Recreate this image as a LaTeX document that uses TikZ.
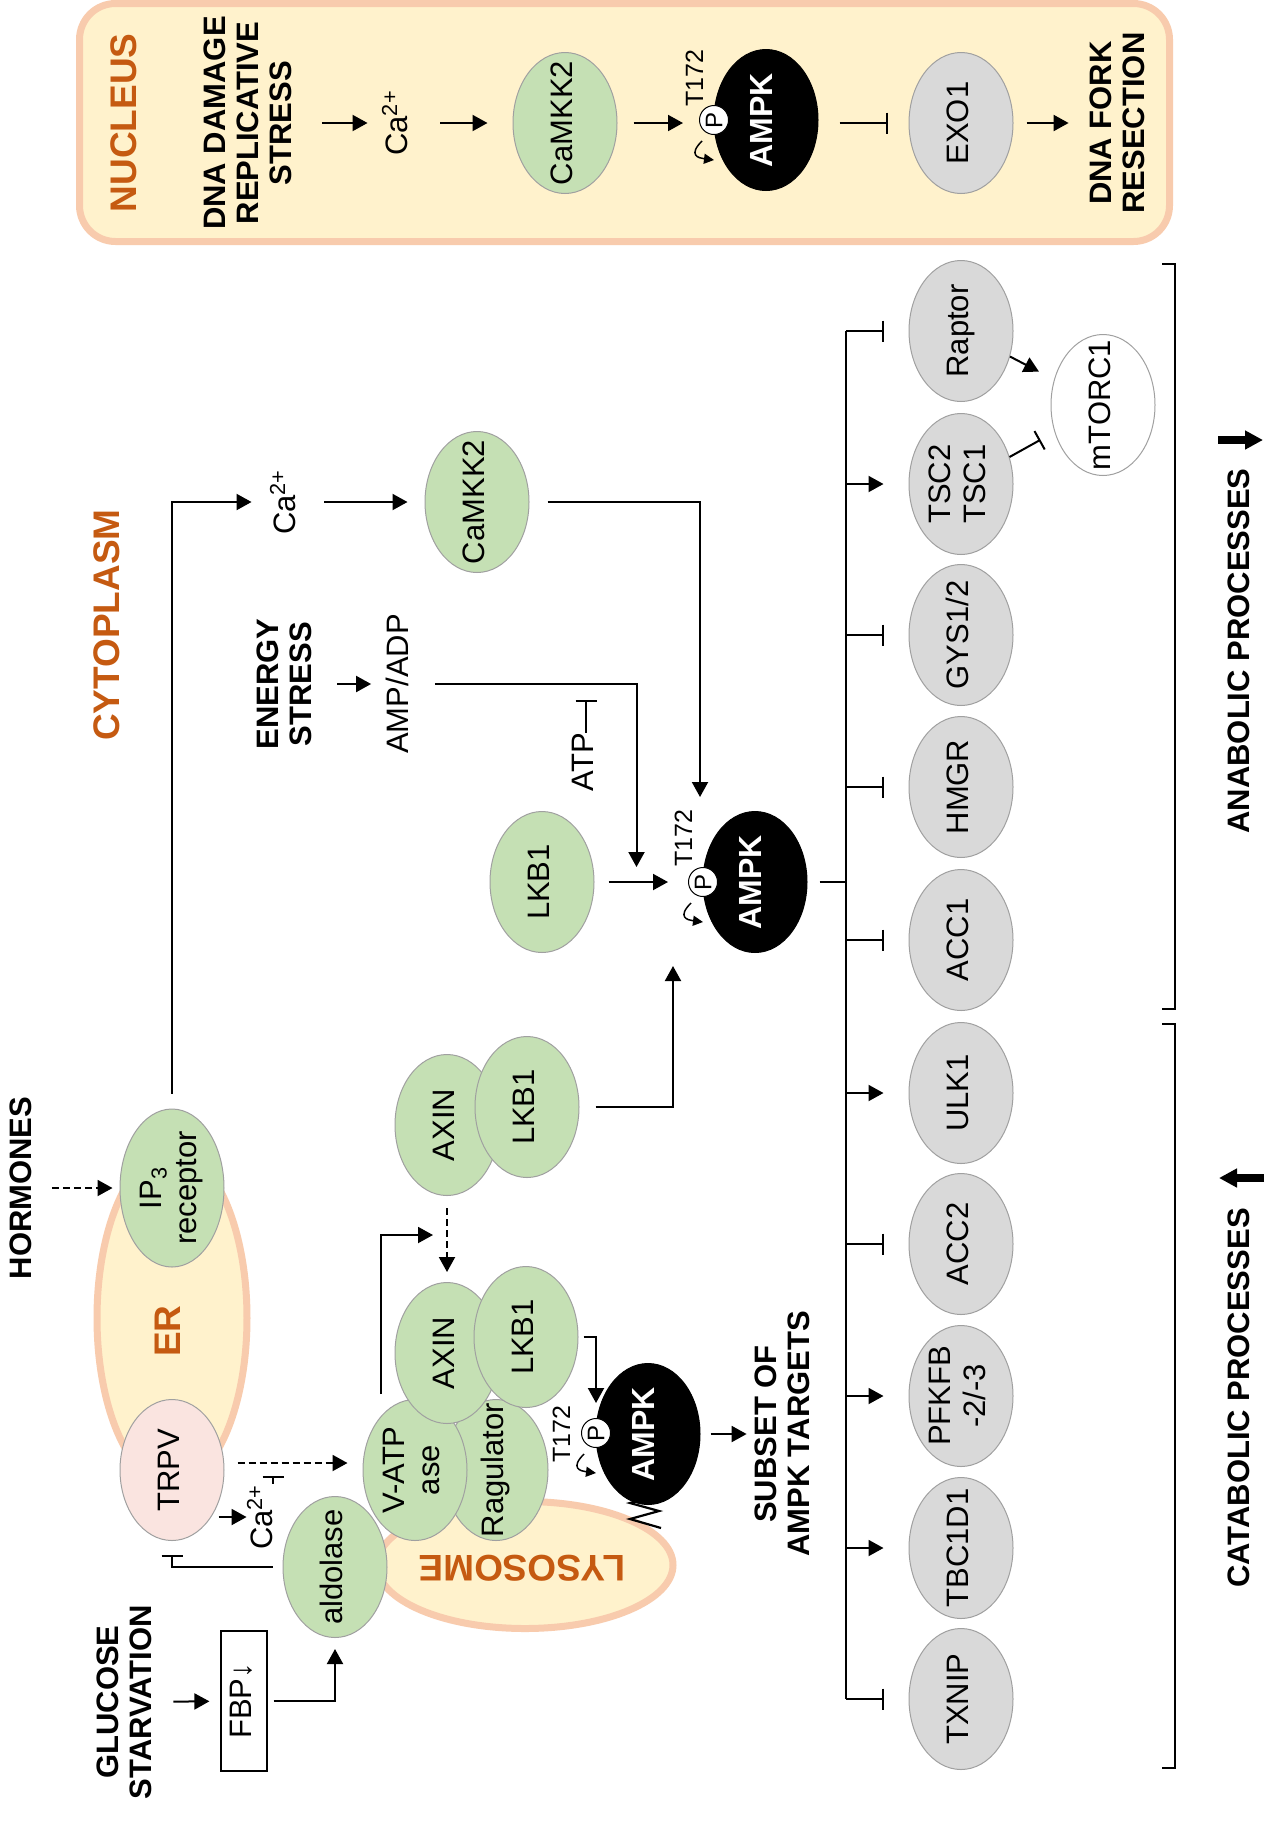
\documentclass[tikz,border=0pt]{standalone}
\usepackage{fontspec}
\setmainfont{Liberation Sans}
\usepackage{graphicx}
\usepackage{tikz}
\usetikzlibrary{arrows.meta,shapes.geometric}
\definecolor{ProtGreen}{HTML}{C5E0B4}
\definecolor{ProtGrey}{HTML}{D9D9D9}
\definecolor{EdgeGrey}{HTML}{A0A0A0}
\definecolor{MemYellow}{HTML}{FFF2CC}
\definecolor{MemPeach}{HTML}{F8CBAD}
\definecolor{RegionOrange}{HTML}{C55A11}
\definecolor{TrpvPink}{HTML}{FAE4E0}

\newcommand{\fLbl}{\fontsize{15.5}{17.5}\selectfont}
\newcommand{\fBold}{\fontsize{15.5}{16.5}\selectfont\bfseries}
\newcommand{\fRegion}{\fontsize{18.5}{19}\selectfont\bfseries}
\newcommand{\fSmall}{\fontsize{12.5}{13}\selectfont}
\newcommand{\vtext}[1]{\rotatebox{90}{\begin{tabular}{@{}c@{}}#1\end{tabular}}}
\newcommand{\vinner}[1]{\makebox[0pt]{\raisebox{-.5\height}[0pt][0pt]{\vtext{#1}}}}
\newcommand{\phook}[1]{\draw[hookarr] ([shift={(-12,21)}]#1.center) .. controls +(-14,14) and +(-16,-2) .. ([shift={(0,40)}]#1.center);}

\begin{document}
\begin{tikzpicture}[x=0.5pt, y=-0.5pt,
  prot/.style={ellipse, draw=EdgeGrey, line width=0.5pt, inner sep=0pt,
    minimum width=52pt, minimum height=70.5pt, font=\fLbl},
  actor/.style={prot, fill=ProtGreen},
  tgt/.style={prot, fill=ProtGrey},
  ampk/.style={prot, draw=black, fill=black, text=white, font=\fontsize{16}{17}\selectfont\bfseries},
  pcirc/.style={circle, draw=black, line width=0.5pt, fill=white, inner sep=0pt,
    minimum size=14.5pt, font=\fontsize{12}{12}\selectfont},
  lbl/.style={inner sep=0pt, font=\fLbl},
  boldlbl/.style={inner sep=0pt, font=\fBold},
  tlbl/.style={inner sep=0pt, font=\fSmall},
  region/.style={inner sep=0pt, font=\fRegion, text=RegionOrange},
  membrane/.style={draw=MemPeach, line width=3.5pt, fill=MemYellow, inner sep=0pt},
  wire/.style={line width=1pt},
  arr/.style={wire, -{Triangle[length=7.5pt,width=8pt]}},
  inh/.style={wire, -{Bar[width=10.5pt]}},
  darr/.style={arr, dash pattern=on 3.5pt off 2pt},
  hookarr/.style={line width=0.75pt, -{Triangle[length=5pt,width=5pt]}},
  fatarr/.style={line width=4pt, -{Triangle[length=9pt,width=9pt]}}]
  \path[use as bounding box, fill=white] (0,0) rectangle (1270,1821);

  \node[membrane, rounded corners=18pt, minimum width=545pt, minimum height=119pt] (nucleus) at (624.5,122.5) {};
  \node[region] (nuclbl) at (129,123) {\vtext{NUCLEUS}};
  \node[boldlbl] (dnadmg) at (252,123) {\vtext{DNA DAMAGE\\REPLICATIVE\\STRESS}};
  \node[lbl] (nca) at (400,123) {\vtext{Ca\textsuperscript{2+}}};
  \node[actor] (nck) at (565,123) {\vinner{CaMKK2}};
  \node[ampk] (nampk) at (766,120) {\vinner{AMPK}};
  \node[pcirc] (np) at (714,120) {\rotatebox{90}{P}};
  \node[tlbl] (nt) at (698,78) {\vtext{T172}};
  \node[tgt] (exo) at (961,123) {\vinner{EXO1}};
  \node[boldlbl] (fork) at (1121,123) {\vtext{DNA FORK\\RESECTION}};
  \draw[arr, shorten <=10pt, shorten >=7pt] (dnadmg) -- (nca);
  \draw[arr, shorten <=11pt, shorten >=12.5pt] (nca) -- (nck);
  \draw[arr, shorten <=8pt, shorten >=8pt] (nck) -- (nck -| np.west);
  \draw[inh, shorten <=10.5pt, shorten >=10.5pt] (nampk.east |- exo) -- (exo);
  \draw[arr, shorten <=6.5pt, shorten >=9.5pt] (exo) -- (fork);
  \phook{np}

  \node[region] (cytlbl) at (112,625) {\vtext{CYTOPLASM}};
  \node[membrane, ellipse, minimum width=75pt, minimum height=166.5pt] (er) at (172,1318) {};
  \node[region] (erlbl) at (173,1331) {\vtext{ER}};
  \node[actor, minimum height=79pt] (ip3) at (172,1188) {\vinner{IP\textsubscript{3}\\receptor}};
  \node[boldlbl] (horm) at (25,1188) {\vtext{HORMONES}};
  \node[lbl] (cca) at (288,502) {\vtext{Ca\textsuperscript{2+}}};
  \node[actor] (cck) at (477,502) {\vinner{CaMKK2}};
  \node[boldlbl] (enst) at (288,684) {\vtext{ENERGY\\STRESS}};
  \node[lbl] (amp) at (401,684) {\vtext{AMP/ADP}};
  \node[lbl] (atp) at (586,762) {\vtext{ATP}};
  \coordinate (atpbar) at (586,700);
  \node[actor] (lkbc) at (542,882) {\vinner{LKB1}};
  \node[ampk] (ampkc) at (755,882) {\vinner{AMPK}};
  \node[pcirc] (pc) at (703,882) {\rotatebox{90}{P}};
  \node[tlbl] (tc) at (687,838) {\vtext{T172}};
  \node[actor] (axc) at (447,1125) {\vinner{AXIN}};
  \node[actor] (lkbp) at (527,1107) {\vinner{LKB1}};
  \draw[darr, shorten <=5pt, shorten >=3.5pt] (horm) -- (ip3);
  \draw[arr, shorten <=7.5pt, shorten >=9pt] (ip3) |- (cca);
  \draw[arr, shorten <=9pt, shorten >=8.5pt] (cca) -- (cck);
  \draw[arr, shorten <=9pt, shorten >=7pt] (cck) -| ([xshift=-27.5pt]ampkc.north);
  \draw[arr, shorten <=8pt, shorten >=6pt] (enst) -- (amp);
  \draw[arr, shorten <=8pt, shorten >=7.5pt] (amp) -| ([xshift=-33pt]ampkc.west);
  \draw[inh] (atp) -- (atpbar);
  \draw[arr, shorten <=7pt, shorten >=10pt] (lkbc) -- (pc);
  \draw[arr, shorten <=8pt, shorten >=6.5pt] (lkbp) -| ([xshift=-41pt]ampkc.south);
  \phook{pc}

  \node[membrane, ellipse, minimum width=148pt, minimum height=63.5pt] (lyso) at (525,1565) {};
  \node[region] (lyslbl) at (522,1568) {\rotatebox{180}{LYSOSOME}};
  \node[actor] (rag) at (496,1470) {\vinner{Ragulator}};
  \node[actor] (vatp) at (415,1470) {\vinner{V-ATP\\ase}};
  \node[actor] (axl) at (447,1353) {\vinner{AXIN}};
  \node[actor] (lkbl) at (526,1337) {\vinner{LKB1}};
  \node[actor] (ald) at (335,1567) {\vinner{aldolase}};
  \node[prot, fill=TrpvPink] (trpv) at (172,1470) {\vinner{TRPV}};
  \node[ampk] (ampkl) at (648,1434) {\vinner{AMPK}};
  \node[pcirc] (pl) at (596,1433) {\rotatebox{90}{P}};
  \node[tlbl] (tl) at (565,1434) {\vtext{T172}};
  \node[boldlbl] (sub) at (786,1434) {\vtext{SUBSET OF\\AMPK TARGETS}};
  \node[lbl] (cal) at (265,1517) {\vtext{Ca\textsuperscript{2+}}};
  \coordinate (calbar) at (273,1476);
  \coordinate (axmid) at (447,1235);
  \node[boldlbl] (glc) at (128,1702) {\vtext{GLUCOSE\\STARVATION}};
  \node[draw, line width=0.6pt, inner sep=0pt, minimum width=23pt, minimum height=70pt, font=\fLbl] (fbp) at (244,1701) {\vinner{FBP↓}};
  \draw[darr, shorten <=6pt, shorten >=5pt] (axc) -- (axl);
  \draw[arr, shorten <=2.5pt, shorten >=7pt] ([xshift=-17pt]vatp.north) |- (axmid);
  \draw[arr, shorten <=2.5pt, shorten >=7.5pt] (lkbl) -| (pl);
  \draw[arr, shorten <=5pt, shorten >=3pt] (ampkl) -- (sub);
  \draw[darr, shorten <=6.5pt, shorten >=7.5pt] ([yshift=3.5pt]trpv.east) -- ([yshift=3.5pt]vatp.west);
  \draw[arr, shorten <=-3pt] (trpv.east |- cal) -- (cal);
  \draw[inh] (cal.north -| calbar) -- (calbar);
  \draw[inh, shorten <=5pt, shorten >=7pt] (ald) -| (trpv);
  \draw[arr, shorten <=6pt, shorten >=5.5pt] (glc) -- (fbp);
  \draw[arr, shorten <=3pt, shorten >=5.5pt] (fbp) -| (ald);
  \draw[line width=1.1pt, line join=miter] (661,1494) -- (630,1503) -- (659,1511) -- (630,1519) -- (661,1528);
  \phook{pl}

  \node[tgt] (raptor) at (961,331) {\vinner{Raptor}};
  \node[tgt] (tsc) at (961,484) {\vinner{TSC2\\TSC1}};
  \node[tgt] (gys) at (961,635) {\vinner{GYS1/2}};
  \node[tgt] (hmgr) at (961,787) {\vinner{HMGR}};
  \node[tgt] (acc1) at (961,940) {\vinner{ACC1}};
  \node[tgt] (ulk1) at (961,1093) {\vinner{ULK1}};
  \node[tgt] (acc2) at (961,1244) {\vinner{ACC2}};
  \node[tgt] (pfkfb) at (961,1396) {\vinner{PFKFB\\-2/-3}};
  \node[tgt] (tbc) at (961,1548) {\vinner{TBC1D1}};
  \node[tgt] (txnip) at (961,1699) {\vinner{TXNIP}};
  \node[prot, fill=white] (mtor) at (1103,405) {\vinner{mTORC1}};
  \coordinate (bus) at (846,882);
  \draw[wire, shorten <=6pt] (ampkc) -- (bus);
  \draw[wire] (bus |- raptor) -- (bus |- txnip);
  \foreach \n in {raptor,gys,hmgr,acc1,acc2,txnip}
    \draw[inh, shorten >=12.5pt] (bus |- \n) -- (\n);
  \foreach \n in {tsc,ulk1,pfkfb,tbc}
    \draw[arr, shorten >=12.5pt] (bus |- \n) -- (\n);
  \draw[arr, shorten >=8.5pt] (raptor) -- (mtor);
  \draw[inh, shorten >=8pt] (tsc) -- (mtor);

  \draw[wire] (1162,264) -- (1175,264) -- (1175,1009) -- (1162,1009);
  \draw[wire] (1162,1024) -- (1175,1024) -- (1175,1768) -- (1162,1768);
  \node[boldlbl] (anab) at (1243,651) {\vtext{ANABOLIC PROCESSES}};
  \node[boldlbl] (catab) at (1243,1398) {\vtext{CATABOLIC PROCESSES}};
  \draw[fatarr] (1218,440) -- (1263,440);
  \draw[fatarr] (1264,1178) -- (1219,1178);
\end{tikzpicture}
\end{document}
